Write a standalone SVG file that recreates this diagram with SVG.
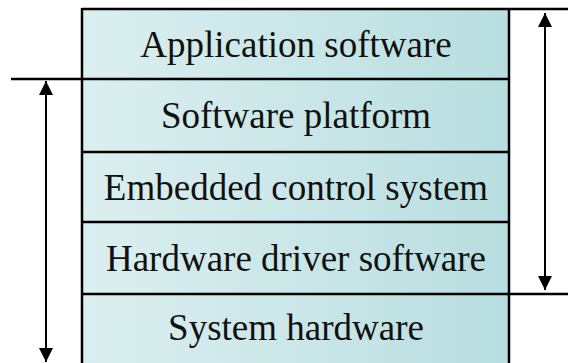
<svg xmlns="http://www.w3.org/2000/svg" width="568" height="363" viewBox="0 0 568 363">
<defs>
<linearGradient id="g" x1="0" y1="0" x2="1" y2="0">
<stop offset="0" stop-color="#dceff0"/>
<stop offset="1" stop-color="#b8dee0"/>
</linearGradient>
<marker id="ah" viewBox="0 0 10 10" refX="10" refY="5" markerWidth="14" markerHeight="14" markerUnits="userSpaceOnUse" orient="auto-start-reverse">
<path d="M0,0 L10,5 L0,10 Z" fill="#000"/>
</marker>
<style>
.layer rect{fill:url(#g);stroke:none}
.t{font-size:37px;fill:#111;text-anchor:middle}
.ln{stroke:#000;stroke-width:2.5;fill:none}
.ar{stroke:#000;stroke-width:2;fill:none}
</style>
</defs>
<g font-family="'Liberation Serif', 'Times New Roman', serif">
<g id="app" class="layer"><rect x="82" y="9" width="427" height="70"/><text class="t" x="296" y="57">Application software</text></g>
<g id="platform" class="layer"><rect x="82" y="79" width="427" height="73"/><text class="t" x="296" y="128">Software platform</text></g>
<g id="embedded" class="layer"><rect x="82" y="152" width="427" height="70"/><text class="t" x="296" y="200">Embedded control system</text></g>
<g id="driver" class="layer"><rect x="82" y="222" width="427" height="72"/><text class="t" x="296" y="271">Hardware driver software</text></g>
<g id="hardware" class="layer"><rect x="82" y="294" width="427" height="70"/><text class="t" x="296" y="340">System hardware</text></g>
</g>
<g id="connectors">
<path class="ln" d="M82,9 H568 M11,79 H509 M82,152 H509 M82,222 H509 M82,294 H568 M82,8 V363 M509,8 V363"/>
<path class="ar" d="M46,81 V362" marker-start="url(#ah)" marker-end="url(#ah)"/>
<path class="ar" d="M545,13 V290" marker-start="url(#ah)" marker-end="url(#ah)"/>
</g>
</svg>
